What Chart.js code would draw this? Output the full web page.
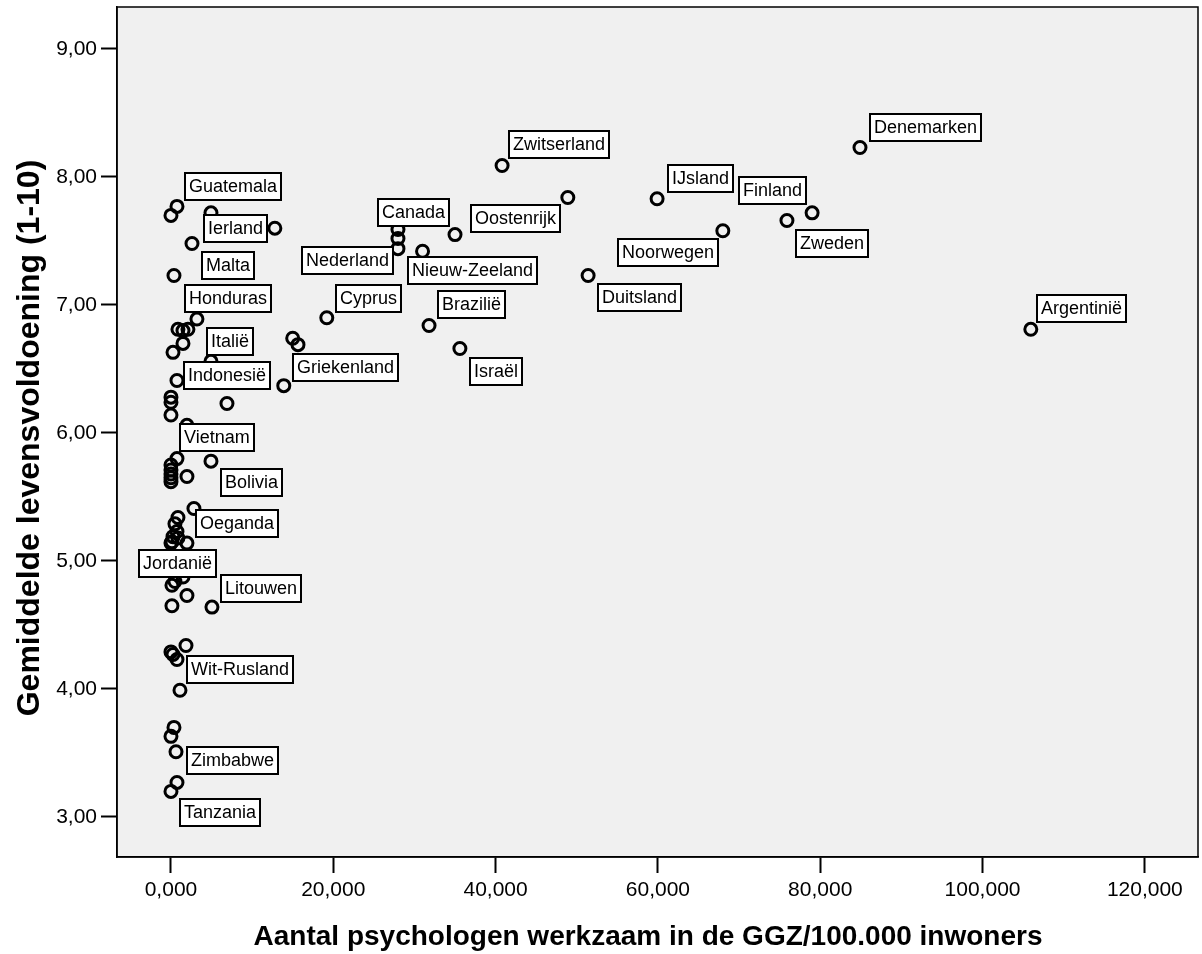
<!DOCTYPE html>
<html>
<head>
<meta charset="utf-8">
<script src="https://cdn.jsdelivr.net/npm/chart.js@4.4.0/dist/chart.umd.min.js"></script>
<style>
    html, body { margin: 0; padding: 0; background: #fff; }
    #wrap { width: 1202px; height: 954px; }
</style>
</head>
<body>
<div id="wrap"><canvas id="myChart" width="1202" height="954"></canvas></div>
<script>
// aantal psychologen per 100.000 inwoners (x) tegen gemiddelde levensvoldoening (y)
let psychologists = [
    84.9, 105.95, 79.0, 75.9, 68.0, 59.9, 51.4, 48.9, 40.8, 35.0,
    31.0, 27.97, 27.97, 27.97, 31.8, 35.6, 19.2, 15.0, 15.65, 13.9,
    12.8, 0.74, 0.0, 4.93, 2.59, 0.37, 3.2, 0.86, 1.48, 2.09,
    1.48, 0.25, 4.93, 0.74, 0.0, 0.0, 6.9, 0.0, 1.97, 0.74,
    4.93, 0.0, 0.0, 0.0, 0.0, 0.0, 1.97, 2.83, 0.86, 0.49,
    0.74, 0.25, 0.12, 0.86, 1.97, 0.0, 1.48, 0.49, 0.12, 1.97,
    0.12, 5.05, 1.85, 0.0, 0.25, 0.74, 1.11, 0.37, 0.0, 0.62,
    0.74, 0.0
];
let satisfaction = [
    8.23, 6.81, 7.72, 7.66, 7.58, 7.83, 7.23, 7.84, 8.09, 7.55,
    7.42, 7.59, 7.52, 7.44, 6.84, 6.66, 6.90, 6.74, 6.69, 6.37,
    7.60, 7.77, 7.70, 7.72, 7.48, 7.23, 6.89, 6.81, 6.80, 6.81,
    6.70, 6.63, 6.56, 6.41, 6.28, 6.24, 6.23, 6.14, 6.06, 5.80,
    5.78, 5.75, 5.71, 5.68, 5.65, 5.62, 5.66, 5.41, 5.34, 5.29,
    5.23, 5.19, 5.15, 5.18, 5.14, 5.14, 4.875, 4.84, 4.81, 4.73,
    4.65, 4.64, 4.34, 4.29, 4.27, 4.23, 3.99, 3.70, 3.63, 3.51,
    3.27, 3.20
];
let countryNames = [
    'Denemarken', 'Argentinië', 'Finland', 'Zweden', 'Noorwegen', 'IJsland', 'Duitsland', 'Oostenrijk', 'Zwitserland', '',
    'Nieuw-Zeeland', 'Canada', '', 'Nederland', 'Brazilië', 'Israël', 'Cyprus', '', '', 'Griekenland',
    '', 'Guatemala', '', 'Ierland', 'Malta', 'Honduras', 'Italië', '', '', '',
    '', 'Indonesië', '', '', '', '', '', 'Vietnam', '', '',
    'Bolivia', '', '', '', '', '', '', '', 'Oeganda', '',
    '', '', '', '', '', 'Jordanië', '', '', '', '',
    '', 'Litouwen', '', '', '', '', 'Wit-Rusland', '', '', '',
    'Zimbabwe', 'Tanzania'
];
let xTicks = [0, 20, 40, 60, 80, 100, 120];
let yTicks = [3, 4, 5, 6, 7, 8, 9];
let xTitle = 'Aantal psychologen werkzaam in de GGZ/100.000 inwoners';
let yTitle = 'Gemiddelde levensvoldoening (1-10)';

// where each label box sits, relative to its point (px, top-left corner)
let labelOffsets = {
    'Denemarken': [9, -35], 'Argentinië': [5, -35], 'Finland': [-74, -37], 'Zweden': [8, 8],
    'Noorwegen': [-106, 7], 'IJsland': [10, -35], 'Duitsland': [9, 7], 'Oostenrijk': [-98, 7],
    'Zwitserland': [6, -35], 'Nieuw-Zeeland': [-16, 5], 'Canada': [-21, -31], 'Nederland': [-97, -3],
    'Brazilië': [8, -35], 'Israël': [9, 8], 'Cyprus': [8, -34], 'Griekenland': [8, -33],
    'Guatemala': [7, -34], 'Ierland': [-8, 1], 'Malta': [9, 7], 'Honduras': [10, 8],
    'Italië': [9, 8], 'Indonesië': [10, 9], 'Vietnam': [8, 8], 'Bolivia': [9, 7],
    'Oeganda': [17, -8], 'Jordanië': [-33, 6], 'Litouwen': [8, -33], 'Wit-Rusland': [6, -35],
    'Zimbabwe': [9, -36], 'Tanzania': [8, 7]
};

let fontFamily = 'Arial, "Liberation Sans", Helvetica, sans-serif';
let myChart = null;

const comma = (v, d) => v.toFixed(d).replace('.', ',');

// no extra room for edge tick labels, the plot box is fixed
const noEdgePadding = (s) => {
    s.paddingTop = 0;
    s.paddingBottom = 0;
    s.paddingLeft = 0;
    s.paddingRight = 0;
};

const plotFrame = {
    id: 'plotFrame',
    beforeDraw(chart) {
        let ctx = chart.ctx;
        let a = chart.chartArea;
        ctx.save();
        ctx.fillStyle = '#f0f0f0';
        ctx.fillRect(a.left, a.top, a.right - a.left, a.bottom - a.top);
        ctx.restore();
    },
    afterDatasetsDraw(chart) {
        let ctx = chart.ctx;
        let xs = chart.scales.x;
        let ys = chart.scales.y;
        ctx.save();
        ctx.font = '18px ' + fontFamily;
        ctx.textBaseline = 'middle';
        ctx.textAlign = 'left';
        for (let i = 0; i < countryNames.length; i++) {
            let name = countryNames[i];
            if (name === '') continue;
            let off = labelOffsets[name];
            let left = Math.round(xs.getPixelForValue(psychologists[i]) + off[0]);
            let top = Math.round(ys.getPixelForValue(satisfaction[i]) + off[1]);
            let w = Math.round(ctx.measureText(name).width + 10);
            let h = 29;
            ctx.fillStyle = '#fff';
            ctx.fillRect(left, top, w, h);
            ctx.strokeStyle = '#000';
            ctx.lineWidth = 2;
            ctx.strokeRect(left + 1, top + 1, w - 2, h - 2);
            ctx.fillStyle = '#000';
            ctx.fillText(name, left + 5, top + h / 2 + 1);
        }
        ctx.restore();
    },
    afterDraw(chart) {
        let ctx = chart.ctx;
        let a = chart.chartArea;
        ctx.save();
        ctx.strokeStyle = '#000';
        ctx.lineWidth = 1.5;
        ctx.strokeRect(a.left, a.top, a.right - a.left, a.bottom - a.top);

        ctx.fillStyle = '#000';
        ctx.textAlign = 'center';
        ctx.textBaseline = 'middle';
        ctx.font = 'bold 28px ' + fontFamily;
        ctx.fillText(xTitle, 648, 937);
        ctx.translate(30, 438);
        ctx.rotate(-Math.PI / 2);
        ctx.font = 'bold 32px ' + fontFamily;
        ctx.fillText(yTitle, 0, 0);
        ctx.restore();
    }
};

const scatterGraph = () => {
    let points = [];
    for (let i = 0; i < psychologists.length; i++) {
        points.push({x: psychologists[i], y: satisfaction[i]});
    }

    let data = {
        datasets: [{
            label: 'landen',
            data: points,
            pointRadius: 6,
            pointHoverRadius: 6,
            pointBorderWidth: 3,
            pointBackgroundColor: 'rgba(0,0,0,0)',
            pointBorderColor: '#000',
        }]
    };

    let ctx = document.getElementById('myChart').getContext('2d');
    if (myChart !== null) {
        myChart.destroy();
    }
    myChart = new Chart(ctx, {
        type: 'scatter',
        data: data,
        plugins: [plotFrame],
        options: {
            responsive: false,
            animation: false,
            layout: {autoPadding: false, padding: {top: 7, right: 4, left: 0, bottom: 0}},
            plugins: {
                legend: {display: false},
                tooltip: {enabled: false},
            },
            scales: {
                x: {
                    type: 'linear',
                    min: -6.65,
                    max: 126.55,
                    afterBuildTicks: s => { s.ticks = xTicks.map(v => ({value: v})); },
                    afterFit: s => { s.height = 97; noEdgePadding(s); },
                    grid: {drawOnChartArea: false, drawTicks: true, tickLength: 16, tickWidth: 2, tickColor: '#000'},
                    border: {display: true, color: '#000', width: 1.5},
                    ticks: {
                        color: '#000',
                        font: {family: fontFamily, size: 21},
                        padding: 5,
                        maxRotation: 0,
                        autoSkip: false,
                        callback: v => comma(v, 3),
                    },
                },
                y: {
                    type: 'linear',
                    min: 2.6875,
                    max: 9.328,
                    afterBuildTicks: s => { s.ticks = yTicks.map(v => ({value: v})); },
                    afterFit: s => { s.width = 117; noEdgePadding(s); },
                    grid: {drawOnChartArea: false, drawTicks: true, tickLength: 16, tickWidth: 2, tickColor: '#000'},
                    border: {display: true, color: '#000', width: 1.5},
                    ticks: {
                        color: '#000',
                        font: {family: fontFamily, size: 21},
                        padding: 4,
                        autoSkip: false,
                        callback: v => comma(v, 2),
                    },
                },
            },
        },
    });
}

scatterGraph();
</script>
</body>
</html>
